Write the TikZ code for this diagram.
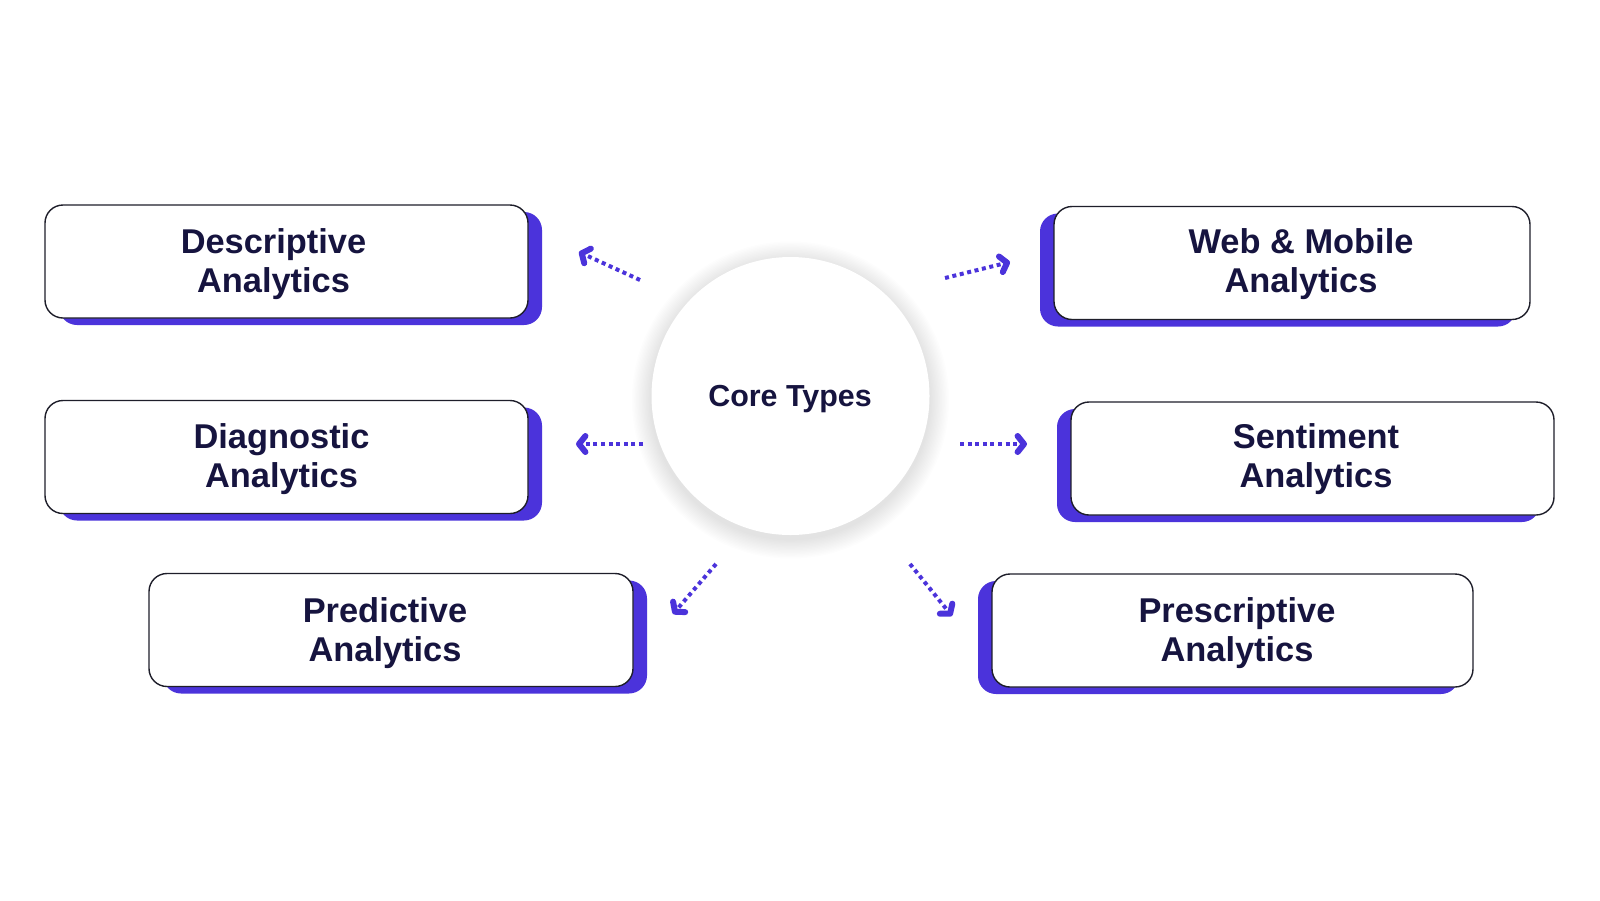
\documentclass[tikz,border=0pt]{standalone}
\usepackage{fontspec}
\setmainfont{Liberation Sans}
\usetikzlibrary{arrows.meta,shadows}
\definecolor{accent}{HTML}{4B33DB}
\definecolor{ink}{HTML}{16143F}
\definecolor{cardline}{HTML}{1E1E2A}
\tikzset{
  card/.style={draw=cardline, line width=0.7pt, fill=white, rounded corners=9pt,
    minimum height=56.5pt, inner sep=0pt},
  shadeR/.style={general shadow={fill=accent, shadow xshift=7pt, shadow yshift=-3.5pt}},
  shadeL/.style={general shadow={fill=accent, shadow xshift=-7pt, shadow yshift=-3.5pt}},
  lbl/.style={font=\fontsize{17.2}{19.5}\selectfont\bfseries, text=ink, align=center, inner sep=0pt},
  flow/.style={accent, line width=2pt, dash pattern=on 2pt off 1.8pt,
    -{Straight Barb[length=3.2pt,width=8pt,line width=3pt,round]}},
}
\begin{document}
\begin{tikzpicture}[x=0.5pt,y=-0.5pt]
\useasboundingbox (0,0) rectangle (1600,900);
\fill[white] (0,0) rectangle (1600,900);

% central circle with soft shadow
\coordinate (cc) at (790.5,396);
\foreach \r in {1,...,14}
  \fill[black,opacity=0.009] ([yshift=-2pt]cc) circle ({69.5pt+\r*0.7pt});
\node[circle, fill=white, minimum size=139pt, inner sep=0pt] (core) at (cc) {};
\node[font=\fontsize{15.2}{17}\selectfont\bfseries, text=ink] (coret) at (790,399) {Core Types};

% left cards
\node[card, shadeR, minimum width=241.5pt] (desc) at (286.5,261.5) {};
\node[lbl] (descl) at (273.5,264) {Descriptive\\Analytics};
\node[card, shadeR, minimum width=241.5pt] (diag) at (286.5,457) {};
\node[lbl] (diagl) at (281.5,459.5) {Diagnostic\\Analytics};
\node[card, shadeR, minimum width=242pt] (pred) at (391,630) {};
\node[lbl] (predl) at (385,633) {Predictive\\Analytics};

% right cards
\node[card, shadeL, minimum width=238pt] (web) at (1292,263) {};
\node[lbl] (webl) at (1301,264.5) {Web \& Mobile\\Analytics};
\node[card, shadeL, minimum width=241.5pt] (sent) at (1312.5,458.5) {};
\node[lbl] (sentl) at (1316,459.5) {Sentiment\\Analytics};
\node[card, shadeL, minimum width=240.5pt] (pres) at (1232.5,630.5) {};
\node[lbl] (presl) at (1237,633) {Prescriptive\\Analytics};

% arrows
\coordinate (a1s) at (640,280); \coordinate (a1e) at (579,252);
\coordinate (a2s) at (945,278); \coordinate (a2e) at (1010,262);
\coordinate (a3s) at (643,444); \coordinate (a3e) at (576,444);
\coordinate (a4s) at (960,444); \coordinate (a4e) at (1027,444);
\coordinate (a5s) at (716,564); \coordinate (a5e) at (673,614);
\coordinate (a6s) at (910,564); \coordinate (a6e) at (952,616);
\draw[flow] (a1s) -- (a1e);
\draw[flow] (a2s) -- (a2e);
\draw[flow] (a3s) -- (a3e);
\draw[flow] (a4s) -- (a4e);
\draw[flow] (a5s) -- (a5e);
\draw[flow] (a6s) -- (a6e);
\end{tikzpicture}
\end{document}
